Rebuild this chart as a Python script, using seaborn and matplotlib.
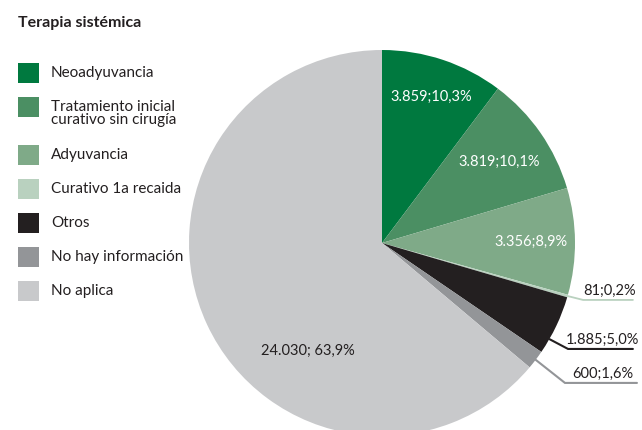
import numpy as np
import matplotlib
matplotlib.use("Agg")
import matplotlib.pyplot as plt
import seaborn as sns
from matplotlib.patches import Rectangle

# data
categorias = ["Neoadyuvancia", "Tratamiento inicial\ncurativo sin cirugía", "Adyuvancia",
              "Curativo 1a recaida", "Otros", "No hay información", "No aplica"]
valores = [3859, 3819, 3356, 81, 1885, 600, 24030]
colores = ["#00793F", "#4B8F63", "#7FAA88", "#B9D1BF", "#231F20", "#939598", "#C8C9CB"]

sns.set_theme(style="white")
plt.rcParams['font.family'] = ['Lato', 'DejaVu Sans']
txt_col = "#231F20"

total = sum(valores)

def etiqueta(v, sep=";"):
    num = f"{v:,}".replace(",", ".")
    pct = f"{100 * v / total:.1f}".replace(".", ",")
    return f"{num}{sep}{pct}%"

W, H = 642, 430
fig = plt.figure(figsize=(W / 100, H / 100), dpi=100)

# fondo en pixeles para titulo y leyenda
bg = fig.add_axes([0, 0, 1, 1])
bg.set_xlim(0, W)
bg.set_ylim(H, 0)
bg.axis("off")

bg.text(18, 23, "Terapia sistémica", fontsize=11.5, fontweight="bold", color=txt_col,
        ha="left", va="center")

tops = [63, 97, 145, 179, 213, 247, 281]
for cat, col, top in zip(categorias, colores, tops):
    bg.add_patch(Rectangle((18, top), 21, 20, facecolor=col, edgecolor="none"))
    if "\n" in cat:
        bg.text(51, top + 3, cat, fontsize=11, color=txt_col, ha="left", va="top",
                linespacing=0.95)
    else:
        bg.text(51, top + 10, cat, fontsize=11, color=txt_col, ha="left", va="center")

# pie
cx, cy, r = 382, 243, 193
ax = fig.add_axes([(cx - r) / W, (H - cy - r) / H, 2 * r / W, 2 * r / H])
wedges, _ = ax.pie(valores, colors=colores, startangle=90, counterclock=False,
                   radius=1, wedgeprops=dict(linewidth=0))
ax.set_xlim(-1, 1)
ax.set_ylim(-1, 1)
ax.axis("off")

def mid_ang(w, frac=0.5):
    return np.deg2rad(w.theta1 + frac * (w.theta2 - w.theta1))

# etiquetas interiores
r_in = [0.80, 0.74, 0.77]
for i in range(3):
    a = mid_ang(wedges[i])
    ax.text(r_in[i] * np.cos(a), r_in[i] * np.sin(a), etiqueta(valores[i]),
            color="white", fontsize=10.5, ha="center", va="center")

ax.text(-0.383, -0.56, etiqueta(valores[6], sep="; "), color=txt_col,
        fontsize=10.5, ha="center", va="center")

# etiquetas exteriores con lineas guia
externos = [
    # indice, fraccion de angulo, codo (x, y), fin x, color linea, grosor
    (3, 0.5, (1.042, -0.295), 1.30, "#B9D1BF", 1.3),
    (4, 0.25, (0.964, -0.549), 1.30, "#231F20", 1.5),
    (5, 0.5, (0.948, -0.725), 1.321, "#939598", 1.5),
]
for idx, frac, (ex, ey), fx, lc, lw in externos:
    a = mid_ang(wedges[idx], frac)
    sx, sy = np.cos(a), np.sin(a)
    ax.plot([sx, ex, fx], [sy, ey, ey], color=lc, lw=lw, clip_on=False,
            solid_joinstyle="miter")
    ax.text((ex + fx) / 2 + 0.01, ey + 0.012, etiqueta(valores[idx]), color=txt_col,
            fontsize=10.5, ha="center", va="bottom", clip_on=False)

fig.savefig("out.png", dpi=100)
